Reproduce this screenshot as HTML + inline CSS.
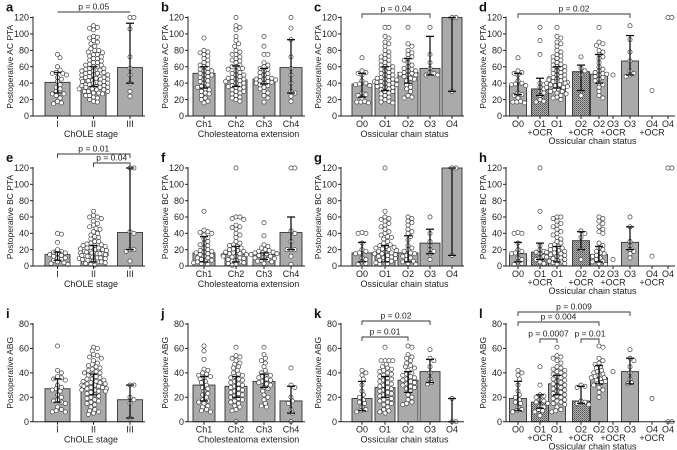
<!DOCTYPE html>
<html><head><meta charset="utf-8"><style>
html,body{margin:0;padding:0;background:#fff;}
svg{display:block;font-family:"Liberation Sans",Arial,sans-serif;}
</style></head><body>
<svg id="fig" width="677" height="450" viewBox="0 0 677 450" xmlns="http://www.w3.org/2000/svg">
<defs>
<pattern id="ocr" width="2" height="2" patternUnits="userSpaceOnUse">
<rect width="2" height="2" fill="#b0b0b0"/><rect width="1" height="1" fill="#555"/><rect x="1" y="1" width="1" height="1" fill="#777"/>
</pattern>
</defs>
</svg>
<script>
// ---------- DATA ----------
const catsStage=["I","II","III"];
const catsExt=["Ch1","Ch2","Ch3","Ch4"];
const catsOss=["O0","O1","O2","O3","O4"];
const catsOcr=["O0","O1|+OCR","O1","O2|+OCR","O2","O3|+OCR","O3","O4|+OCR","O4"];
const ocrFlags=[0,1,0,1,0,1,0,1,0];

const aMeans=[41,47,59]; const aLo=[28,36,40]; const aHi=[53,60,113];
const aPts=[[75,71,60,56,53,52,52,50,47,45,42,38,35,33,30,28,27,27,25,22,18,16,15],
[110,108,107,105,97,96,95,92,90,88,85,82,80,80,78,77,75,75,73,72,70,70,68,67,65,65,63,62,62,60,60,58,58,57,56,55,55,53,53,52,52,50,50,50,48,48,47,47,46,45,45,45,43,43,42,42,41,40,40,40,38,38,37,37,36,35,35,35,33,33,32,32,30,30,30,28,28,27,25,25,23,22,20,18,17],
[120,120,106,72,58,50,40,30,24]];
const bMeans=[52,44,45,59]; const bLo=[34,36,39,28]; const bHi=[60,61,58,93];
const bPts=[[95,80,78,77,75,73,70,68,65,63,62,60,58,57,55,55,53,52,50,50,48,47,45,43,42,40,38,36,35,33,32,30,28,27,25,22,20,18,16],
[120,110,108,105,97,92,88,85,80,78,75,75,72,70,68,67,65,62,60,60,58,57,55,53,52,50,50,48,47,46,45,45,43,42,42,40,40,38,37,36,35,35,33,32,30,30,28,27,25,23,22,20,18],
[97,85,75,75,65,62,60,58,57,55,53,52,50,48,47,46,45,45,44,43,42,41,40,40,38,37,35,33,30,28,25,22,17],
[120,107,93,72,58,50,40,30,28,24,18]];
const cMeans=[39,42,53,58,120]; const cLo=[23,31,40,50,30]; const cHi=[52,60,70,97,120];
const cPts=[[71,55,53,52,50,43,40,39,38,37,28,26,25,22,18,17,17,16],
[108,108,97,95,90,88,85,80,78,75,73,72,70,68,67,65,63,62,60,60,58,57,55,55,53,52,50,50,48,47,46,45,45,44,43,42,42,41,40,40,38,38,37,36,35,35,33,32,30,30,28,27,25,23,22,20,18,17,16],
[108,88,85,80,77,75,72,70,68,65,62,60,58,57,55,55,53,52,51,50,50,48,46,45,43,40,38,35,33,30,25,23,22],
[108,75,65,58,53,52,50,50],[120,120,30]];
const dMeans=[39,33,46,54,51,null,67,null,null]; const dLo=[26,25,34,31,40,null,50,null,null]; const dHi=[52,46,60,62,75,null,98,null,null];
const dPts=[[71,55,53,52,50,43,40,39,38,37,28,26,25,22,18,17,17,16],
[108,92,75,40,38,35,33,30,28,25,20,18,17],
[108,97,95,90,88,85,80,78,75,73,72,70,68,67,65,63,62,60,60,58,57,55,55,53,52,50,50,48,47,46,45,45,44,43,42,42,41,40,40,38,38,37,36,35,35,33,32,30,30,28,27,25,23,22,20],
[72,58,55,50,25],
[108,90,88,86,80,78,75,72,70,65,60,57,55,53,52,51,50,48,47,45,43,40,38,35,30,25,22],
[50],[110,93,78,67,55,52,50,48],[31],[120,120]];

const eMeans=[14,15,41]; const eLo=[7,5,20]; const eHi=[17,25,120];
const ePts=[[40,39,29,20,18,17,16,15,14,13,12,10,10,8,7,5,4,3,2],
[67,62,60,60,58,55,52,50,48,46,45,42,40,38,36,35,33,30,30,28,27,26,25,25,24,23,22,22,21,20,20,19,18,18,17,17,16,16,15,15,15,14,14,13,13,12,12,11,11,10,10,10,9,9,8,8,7,7,6,6,5,5,4,3,2,1],
[120,120,42,40,20,20,18,6]];
const fMeans=[16,14,14,41]; const fLo=[5,5,8,20]; const fHi=[36,24,16,60];
const fPts=[[67,44,42,41,40,38,35,33,30,28,26,25,22,20,19,18,17,16,15,14,13,12,10,10,8,7,6,5,4,3,2],
[120,60,60,58,57,50,48,47,45,40,38,35,30,28,26,25,24,22,21,20,19,18,17,16,15,15,14,13,12,12,11,10,9,8,7,6,5,4,3,2,1],
[53,37,26,24,22,20,19,18,17,16,16,15,15,14,13,12,11,10,9,8,7,6,5,3],
[120,120,43,40,30,20,20,20,12,2]];
const gMeans=[16,16,16,28,120]; const gLo=[5,5,5,15,13]; const gHi=[29,25,37,45,120];
const gPts=[[41,40,40,28,20,18,16,15,10,8,5,3,2],
[120,67,60,58,57,55,52,50,48,45,42,40,38,36,35,33,30,28,26,25,24,23,22,21,20,19,18,17,16,15,15,14,13,12,11,10,9,8,7,6,5,4,3,2],
[60,58,55,53,50,45,42,40,36,32,25,22,20,18,16,15,13,12,10,8,6,5,3,2],
[60,40,30,25,20,18,15,8],[120,120,13]];
const hMeans=[15,17,14,31,14,null,29,null,null]; const hLo=[5,8,5,20,5,null,20,null,null]; const hHi=[29,28,24,42,24,null,48,null,null];
const hPts=[[41,40,40,28,20,18,16,15,10,8,5,3,2],
[120,67,47,25,20,18,17,15,12,10,8,5,3],
[60,60,58,55,52,50,48,45,42,40,38,35,33,30,28,26,25,24,22,21,20,19,18,17,16,15,14,13,12,11,10,9,8,7,6,5,4,3,2],
[43,40,35,20,8],[60,58,55,52,48,45,42,40,28,25,22,20,18,16,15,13,12,10,8,6,5,3,2],
[8],[60,48,30,25,20,18,15,10],[12],[120,120]];

const iMeans=[27,31,18]; const iLo=[16,22,3]; const iHi=[35,39,30];
const iPts=[[62,42,40,37,36,35,34,30,28,27,26,25,22,20,18,17,16,15,12,10,9,8,8],
[61,60,58,55,54,53,52,50,48,47,46,45,44,43,42,41,40,40,39,38,37,36,35,35,34,33,33,32,32,31,31,30,30,29,29,28,28,27,27,26,26,25,25,24,23,22,21,20,19,18,17,16,15,14,12,10,9,8,7,6],
[30,30,20,18,15,3]];
const jMeans=[30,29,33,17]; const jLo=[17,20,28,7]; const jHi=[37,37,39,29];
const jPts=[[62,58,51,43,42,40,39,38,37,36,35,33,32,30,28,27,25,23,22,20,18,17,16,15,13,12,10,9,8],
[61,54,53,52,50,48,47,45,44,42,40,39,38,37,36,35,34,33,32,31,30,29,28,27,26,25,24,23,22,21,20,19,18,17,16,15,13,12,10,9,0],
[61,55,52,50,48,45,42,40,39,38,37,36,35,34,33,32,31,30,28,27,25,22,20,18,15,13,12],
[44,30,28,20,17,15,10,7,0]];
const kMeans=[19,28,34,41,0]; const kLo=[9,20,24,32,0]; const kHi=[33,37,41,51,19];
const kPts=[[42,40,38,35,30,25,22,20,18,16,15,12,10,9,8],
[61,50,50,50,50,47,45,44,43,42,41,40,39,38,37,36,35,34,33,32,31,30,29,28,27,26,25,24,23,22,21,20,19,18,17,16,15,14,12,10,9,8,7],
[62,61,55,53,52,50,48,46,45,44,42,40,39,38,37,36,35,34,33,32,31,30,29,28,27,25,22,20,18,16,15,14],
[59,52,50,45,40,35,32,31],[19,0,0]];
const lMeans=[19,16,31,17,36,null,41,null,null]; const lLo=[9,11,22,15,31,null,31,null,null]; const lHi=[33,22,38,29,46,null,52,null,null];
const lPts=[[42,40,38,35,30,25,22,20,18,16,15,12,10,9,8],
[45,30,22,21,20,18,17,16,15,13,12,10,9,8,5],
[61,54,53,52,50,48,45,44,43,42,41,40,39,38,37,36,35,34,33,32,31,30,29,28,27,26,25,24,23,22,21,20,19,18,17,16,15,14,12,10,9,8],
[30,29,28,17,16,15,14],
[62,61,52,50,48,47,45,44,42,41,40,39,38,37,36,36,35,34,33,32,31,30,28,26,24,20],
[41],[59,52,50,45,40,35,32,31],[19],[0,0]];

// ---------- LAYOUT ----------
const NS="http://www.w3.org/2000/svg";
const svg=document.getElementById('fig');
function mk(tag,attrs,parent){const e=document.createElementNS(NS,tag);for(const k in attrs)e.setAttribute(k,attrs[k]);(parent||svg).appendChild(e);return e;}
const cols={
 A:{ax:33,c:[57.5,93.5,130],bw:25,end:145},
 B:{ax:188,c:[204,236,264,291],bw:22,end:305},
 C:{ax:341,c:[362,385,408,430,452],bw:20,end:464},
 D:{ax:506,c:[518,540,557,581,599,613,630,652,668],bw:17,end:675}};
const rows={1:{top:17.5,bot:116,max:120},2:{top:168,bot:266,max:120},3:{top:324,bot:421.7,max:80}};

function panel(id,letter,col,row,cats,means,lo,hi,pts,ylab,xlab,ocr,brackets){
 const C=cols[col],R=rows[row];
 const g=mk('g',{});
 
 
 const y=v=>R.bot-(v/R.max)*(R.bot-R.top);
 const x=i=>C.c[i];
 const L=mk('text',{x:col==='A'?6:C.ax-27,y:R.top-6,'font-size':13,'font-weight':'bold',fill:'#111'},g);L.textContent=letter;
 
 cats.forEach((c,i)=>{
  if(means[i]==null||means[i]===0)return;
  const r=mk('rect',{x:x(i)-C.bw/2,y:y(means[i]),width:C.bw,height:R.bot-y(means[i]),fill:(ocr&&ocr[i])?'url(#ocr)':'#aaaaaa',stroke:'#333','stroke-width':0.9},g);
  
 });
 const rad=2.1;
 pts.forEach((list,i)=>{
  const placed=[];const maxd=C.bw/2+2;
  list.forEach(v=>{
   const py=y(v);let best=0,found=false;
   for(let k=0;k<=40;k++){
    const dx=(k%2?1:-1)*Math.ceil(k/2)*1.3;
    if(Math.abs(dx)>maxd)break;
    if(placed.every(p=>Math.hypot(p[0]-dx,p[1]-py)>=rad*1.8)){best=dx;found=true;break;}
   }
   if(!found){best=(placed.length*2.7)%(2*maxd)-maxd;}
   placed.push([best,py]);
   const cc=mk('circle',{cx:x(i)+best,cy:py,r:rad,fill:'#fff',stroke:'#444','stroke-width':0.7},g);
   
  });
 });
 cats.forEach((c,i)=>{
  if(lo[i]==null)return;
  const eg=mk('g',{stroke:'#111','stroke-width':1.3},g);
  
  mk('line',{x1:x(i),x2:x(i),y1:y(lo[i]),y2:y(hi[i])},eg);
  mk('line',{x1:x(i)-4,x2:x(i)+4,y1:y(lo[i]),y2:y(lo[i])},eg);
  mk('line',{x1:x(i)-4,x2:x(i)+4,y1:y(hi[i]),y2:y(hi[i])},eg);
 });
 const ax=mk('g',{stroke:'#222','stroke-width':1},g);
 
 mk('line',{x1:C.ax,x2:C.ax,y1:R.top-1,y2:R.bot},ax);
 mk('line',{x1:C.ax,x2:C.end,y1:R.bot,y2:R.bot},ax);
 for(let v=0;v<=R.max;v+=20){
  mk('line',{x1:C.ax-3,x2:C.ax,y1:y(v),y2:y(v)},ax);
  const t=mk('text',{x:C.ax-4,y:y(v)+3.2,'font-size':9,'text-anchor':'end',fill:'#222',stroke:'none'},g);t.textContent=v;
  
 }
 cats.forEach((c,i)=>{
  mk('line',{x1:x(i),x2:x(i),y1:R.bot,y2:R.bot+3},ax);
  const parts=c.split('|');
  const t=mk('text',{x:x(i),y:R.bot+11,'font-size':9,'text-anchor':'middle',fill:'#222'},g);t.textContent=parts[0];
  
  if(parts[1]){const t2=mk('text',{x:x(i),y:R.bot+19.5,'font-size':9,'text-anchor':'middle',fill:'#222'},g);t2.textContent=parts[1];
   }
 });
 const yl=mk('text',{transform:`translate(${C.ax-20},${(R.top+R.bot)/2}) rotate(-90)`,'font-size':8.5,'text-anchor':'middle',fill:'#222'},g);yl.textContent=ylab;
 
 const xl=mk('text',{x:(C.ax+C.end)/2+2,y:R.bot+(ocr?28:21),'font-size':9,'text-anchor':'middle',fill:'#222'},g);xl.textContent=xlab;
 
 (brackets||[]).forEach(b=>{
  const bg=mk('g',{},g);
  
  const x1=x(b[0]),x2=x(b[1]);
  mk('path',{d:b[4]?`M${x1},${b[2]}H${x2}`:`M${x1},${b[2]+4}V${b[2]}H${x2}V${b[2]+4}`,fill:'none',stroke:'#333','stroke-width':0.9},bg);
  const t=mk('text',{x:(x1+x2)/2,y:b[2]-2.5,'font-size':8.5,'text-anchor':'middle',fill:'#222'},bg);t.textContent=b[3];
 });
}
const oc=ocrFlags;
panel('a','a','A',1,catsStage,aMeans,aLo,aHi,aPts,'Postoperative AC PTA','ChOLE stage',null,[[0,2,12,'p = 0.05',1]]);
panel('b','b','B',1,catsExt,bMeans,bLo,bHi,bPts,'Postoperative AC PTA','Cholesteatoma extension',null,[]);
panel('c','c','C',1,catsOss,cMeans,cLo,cHi,cPts,'Postoperative AC PTA','Ossicular chain status',null,[[0,3,14,'p = 0.04']]);
panel('d','d','D',1,catsOcr,dMeans,dLo,dHi,dPts,'Postoperative AC PTA','Ossicular chain status',oc,[[0,6,14,'p = 0.02']]);
panel('e','e','A',2,catsStage,eMeans,eLo,eHi,ePts,'Postoperative BC PTA','ChOLE stage',null,[[0,2,154,'p = 0.01'],[1,2,163,'p = 0.04']]);
panel('f','f','B',2,catsExt,fMeans,fLo,fHi,fPts,'Postoperative BC PTA','Cholesteatoma extension',null,[]);
panel('g','g','C',2,catsOss,gMeans,gLo,gHi,gPts,'Postoperative BC PTA','Ossicular chain status',null,[]);
panel('h','h','D',2,catsOcr,hMeans,hLo,hHi,hPts,'Postoperative BC PTA','Ossicular chain status',oc,[]);
panel('i','i','A',3,catsStage,iMeans,iLo,iHi,iPts,'Postoperative ABG','ChOLE stage',null,[]);
panel('j','j','B',3,catsExt,jMeans,jLo,jHi,jPts,'Postoperative ABG','Cholesteatoma extension',null,[]);
panel('k','k','C',3,catsOss,kMeans,kLo,kHi,kPts,'Postoperative ABG','Ossicular chain status',null,[[0,3,321,'p = 0.02'],[0,2,337,'p = 0.01']]);
panel('l','l','D',3,catsOcr,lMeans,lLo,lHi,lPts,'Postoperative ABG','Ossicular chain status',oc,[[0,6,312,'p = 0.009'],[0,4,322,'p = 0.004'],[1,2,339,'p = 0.0007'],[3,4,339,'p = 0.01']]);
</script>
</body></html>
